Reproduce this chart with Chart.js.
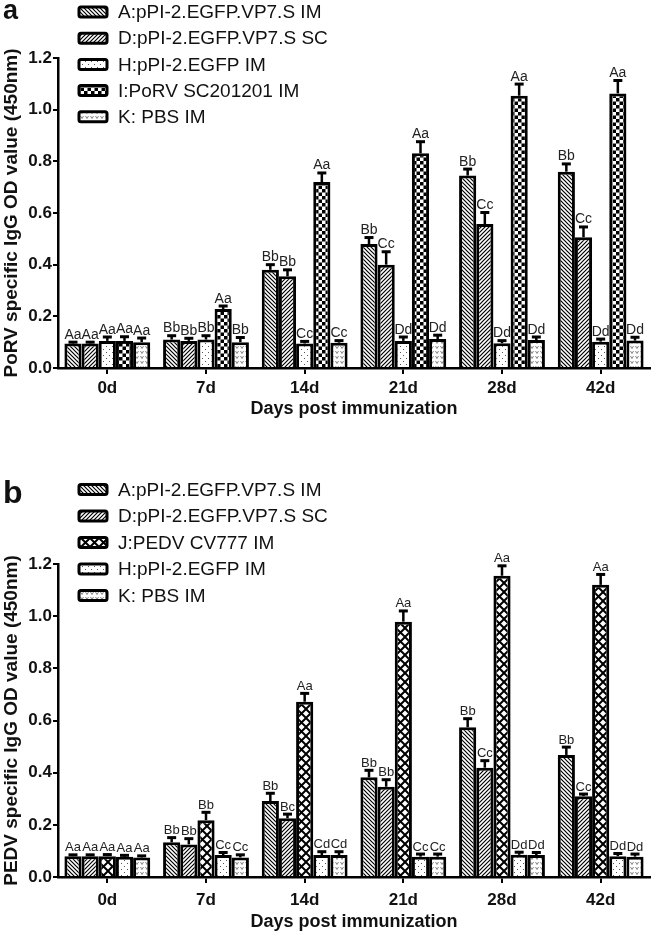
<!DOCTYPE html>
<html lang="en">
    <head>
        <meta charset="utf-8">
        <script src="https://cdn.jsdelivr.net/npm/chart.js"></script>
        <title> Specific IgG OD value </title>
        <style>
            * { box-sizing: border-box; }
            body {
                margin: 0;
                background: #fff;
                width: 657px;
                height: 933px;
                overflow: hidden;
            }
            canvas { position: absolute; left: 0; }
            #chartA { top: 0; }
            #chartB { top: 466px; }
        </style>
    </head>
    <body>
        <canvas id="chartA" width="657" height="466"></canvas>
        <canvas id="chartB" width="657" height="467"></canvas>

        <script>
            // categories
            const days = ['0d', '7d', '14d', '21d', '28d', '42d'];
            const yTicks = [0.0, 0.2, 0.4, 0.6, 0.8, 1.0, 1.2];

            // panel a : PoRV specific IgG
            const porvNames = ['A:pPI-2.EGFP.VP7.S IM', 'D:pPI-2.EGFP.VP7.S SC', 'H:pPI-2.EGFP IM', 'I:PoRV SC201201 IM', 'K: PBS IM'];
            const porvA = [0.095, 0.11, 0.38, 0.48, 0.745, 0.76];
            const porvD = [0.095, 0.105, 0.355, 0.40, 0.557, 0.506];
            const porvH = [0.105, 0.11, 0.095, 0.105, 0.096, 0.102];
            const porvI = [0.105, 0.228, 0.72, 0.831, 1.054, 1.063];
            const porvK = [0.10, 0.10, 0.098, 0.112, 0.108, 0.106];
            const porvAErr = [0.005, 0.015, 0.02, 0.025, 0.025, 0.03];
            const porvDErr = [0.005, 0.01, 0.025, 0.05, 0.045, 0.04];
            const porvHErr = [0.015, 0.015, 0.008, 0.015, 0.01, 0.01];
            const porvIErr = [0.016, 0.012, 0.035, 0.045, 0.045, 0.05];
            const porvKErr = [0.016, 0.018, 0.008, 0.015, 0.012, 0.013];
            const porvAMarks = ['Aa', 'Bb', 'Bb', 'Bb', 'Bb', 'Bb'];
            const porvDMarks = ['Aa', 'Bb', 'Bb', 'Cc', 'Cc', 'Cc'];
            const porvHMarks = ['Aa', 'Bb', 'Cc', 'Dd', 'Dd', 'Dd'];
            const porvIMarks = ['Aa', 'Aa', 'Aa', 'Aa', 'Aa', 'Aa'];
            const porvKMarks = ['Aa', 'Bb', 'Cc', 'Dd', 'Dd', 'Dd'];

            // panel b : PEDV specific IgG
            const pedvNames = ['A:pPI-2.EGFP.VP7.S IM', 'D:pPI-2.EGFP.VP7.S SC', 'J:PEDV CV777 IM', 'H:pPI-2.EGFP IM', 'K: PBS IM'];
            const pedvA = [0.08, 0.133, 0.291, 0.382, 0.574, 0.468];
            const pedvD = [0.08, 0.125, 0.225, 0.346, 0.419, 0.31];
            const pedvJ = [0.08, 0.218, 0.672, 0.979, 1.155, 1.12];
            const pedvH = [0.078, 0.084, 0.084, 0.078, 0.085, 0.08];
            const pedvK = [0.075, 0.075, 0.084, 0.078, 0.084, 0.078];
            const pedvAErr = [0.005, 0.018, 0.03, 0.027, 0.033, 0.03];
            const pedvDErr = [0.005, 0.022, 0.016, 0.027, 0.027, 0.008];
            const pedvJErr = [0.006, 0.03, 0.032, 0.041, 0.038, 0.04];
            const pedvHErr = [0.005, 0.01, 0.013, 0.01, 0.01, 0.01];
            const pedvKErr = [0.006, 0.01, 0.013, 0.01, 0.01, 0.01];
            const pedvAMarks = ['Aa', 'Bb', 'Bb', 'Bb', 'Bb', 'Bb'];
            const pedvDMarks = ['Aa', 'Bb', 'Bc', 'Bb', 'Cc', 'Cc'];
            const pedvJMarks = ['Aa', 'Bb', 'Aa', 'Aa', 'Aa', 'Aa'];
            const pedvHMarks = ['Aa', 'Cc', 'Cd', 'Cc', 'Dd', 'Dd'];
            const pedvKMarks = ['Aa', 'Cc', 'Cd', 'Cc', 'Dd', 'Dd'];

            const FONT = '"Liberation Sans", Arial, sans-serif';

            // fill patterns, one small tile each
            function makePattern(kind) {
                const c = document.createElement('canvas');
                const g = c.getContext('2d');
                let s = 4;
                if (kind === 'back' || kind === 'fwd') {
                    s = 4;
                    c.width = c.height = s;
                    g.fillStyle = '#fff'; g.fillRect(0, 0, s, s);
                    g.strokeStyle = '#000'; g.lineWidth = 1.2;
                    g.beginPath();
                    if (kind === 'back') {
                        g.moveTo(-1, -1); g.lineTo(s + 1, s + 1);
                        g.moveTo(-1, s - 1); g.lineTo(1, s + 1);
                        g.moveTo(s - 1, -1); g.lineTo(s + 1, 1);
                    } else {
                        g.moveTo(-1, s + 1); g.lineTo(s + 1, -1);
                        g.moveTo(-1, 1); g.lineTo(1, -1);
                        g.moveTo(s - 1, s + 1); g.lineTo(s + 1, s - 1);
                    }
                    g.stroke();
                } else if (kind === 'dots') {
                    s = 6;
                    c.width = c.height = s;
                    g.fillStyle = '#fff'; g.fillRect(0, 0, s, s);
                    g.fillStyle = '#555';
                    g.fillRect(1, 1, 1, 1);
                    g.fillRect(4, 4, 1, 1);
                } else if (kind === 'checker') {
                    s = 7;
                    c.width = c.height = s;
                    g.fillStyle = '#fff'; g.fillRect(0, 0, s, s);
                    g.fillStyle = '#000';
                    g.fillRect(0, 0, 3.5, 3.5);
                    g.fillRect(3.5, 3.5, 3.5, 3.5);
                } else if (kind === 'cross') {
                    s = 9;
                    c.width = c.height = s;
                    g.fillStyle = '#fff'; g.fillRect(0, 0, s, s);
                    g.strokeStyle = '#000'; g.lineWidth = 2;
                    g.beginPath();
                    g.moveTo(-1, -1); g.lineTo(s + 1, s + 1);
                    g.moveTo(-1, s + 1); g.lineTo(s + 1, -1);
                    g.stroke();
                } else if (kind === 'vees') {
                    s = 5;
                    c.width = c.height = s;
                    g.fillStyle = '#fff'; g.fillRect(0, 0, s, s);
                    g.strokeStyle = '#666'; g.lineWidth = 0.8;
                    g.beginPath();
                    g.moveTo(0.5, 1); g.lineTo(2, 3.5); g.lineTo(3.5, 1);
                    g.stroke();
                }
                return g.createPattern(c, 'repeat');
            }

            const patBack = makePattern('back');
            const patFwd = makePattern('fwd');
            const patDots = makePattern('dots');
            const patChecker = makePattern('checker');
            const patCross = makePattern('cross');
            const patVees = makePattern('vees');

            function barSet(label, data, err, marks, fill) {
                return {
                    label: label,
                    data: data,
                    errors: err,
                    marks: marks,
                    backgroundColor: fill,
                    borderColor: '#000',
                    borderWidth: 3,
                    categoryPercentage: 0.87,
                    barPercentage: 1.0
                };
            }

            // panel letter, legend, error bars and group letters
            const panelExtras = {
                id: 'panelExtras',
                afterDatasetsDraw(chart, args, opts) {
                    const ctx = chart.ctx;
                    const y = chart.scales.y;
                    ctx.save();
                    chart.data.datasets.forEach((ds, i) => {
                        const meta = chart.getDatasetMeta(i);
                        meta.data.forEach((bar, j) => {
                            const top = bar.y;
                            const yErr = y.getPixelForValue(ds.data[j] + ds.errors[j]);
                            ctx.strokeStyle = '#000';
                            ctx.lineWidth = 2.5;
                            ctx.beginPath();
                            ctx.moveTo(bar.x, top);
                            ctx.lineTo(bar.x, yErr);
                            ctx.stroke();
                            ctx.lineWidth = 3;
                            ctx.beginPath();
                            ctx.moveTo(bar.x - 4.5, yErr);
                            ctx.lineTo(bar.x + 4.5, yErr);
                            ctx.stroke();
                            ctx.fillStyle = '#222';
                            ctx.font = opts.markSize + 'px ' + FONT;
                            ctx.textAlign = 'center';
                            ctx.textBaseline = 'alphabetic';
                            ctx.fillText(ds.marks[j], bar.x, yErr - 3.5);
                        });
                    });
                    ctx.restore();
                },
                afterDraw(chart, args, opts) {
                    const ctx = chart.ctx;
                    ctx.save();
                    // panel letter
                    ctx.fillStyle = '#111';
                    ctx.font = 'bold ' + opts.letterSize + 'px ' + FONT;
                    ctx.textAlign = 'left';
                    ctx.textBaseline = 'alphabetic';
                    ctx.fillText(opts.letter, 3, opts.letterBaseline);
                    // legend
                    chart.data.datasets.forEach((ds, i) => {
                        const cy = opts.legendTop + i * opts.legendStep;
                        ctx.fillStyle = ds.backgroundColor;
                        ctx.strokeStyle = '#000';
                        ctx.lineWidth = 3;
                        ctx.beginPath();
                        ctx.roundRect(79, cy - 5, 28, 10, 2);
                        ctx.fill();
                        ctx.stroke();
                        ctx.fillStyle = '#111';
                        ctx.font = '19px ' + FONT;
                        ctx.textBaseline = 'middle';
                        ctx.fillText(ds.label, 118, cy + 1);
                    });
                    ctx.restore();
                }
            };

            function makeChart(id, datasets, yTitle, p) {
                return new Chart(document.getElementById(id), {
                    type: 'bar',
                    data: { labels: days, datasets: datasets },
                    plugins: [panelExtras],
                    options: {
                        responsive: false,
                        animation: false,
                        layout: { padding: { top: p.top, bottom: p.bottom, left: 0, right: 7 } },
                        plugins: {
                            legend: { display: false },
                            tooltip: { enabled: false },
                            panelExtras: p.extras
                        },
                        scales: {
                            x: {
                                afterFit: (s) => { s.height = p.xHeight; },
                                border: { color: '#000', width: 2.5 },
                                grid: { offset: false, drawOnChartArea: false, drawTicks: true, tickLength: 6, color: '#000', lineWidth: 2 },
                                ticks: { color: '#111', padding: p.xPad, font: { family: FONT, size: 17, weight: 'bold' } },
                                title: { display: true, text: 'Days post immunization', color: '#111', padding: { top: 0, bottom: 0 }, font: { family: FONT, size: 18, weight: 'bold' } }
                            },
                            y: {
                                min: 0,
                                max: 1.2,
                                afterFit: (s) => { s.width = 58; },
                                afterBuildTicks: (s) => { s.ticks = yTicks.map(v => ({ value: v })); },
                                border: { color: '#000', width: 2.5 },
                                grid: { drawOnChartArea: false, drawTicks: true, tickLength: 5, color: '#000', lineWidth: 2 },
                                ticks: { color: '#111', padding: 1, font: { family: FONT, size: 17, weight: 'bold' }, callback: (v) => Number(v).toFixed(1) },
                                title: { display: true, text: yTitle, color: '#111', padding: { top: 0, bottom: 0 }, font: { family: FONT, size: 19, weight: 'bold' } }
                            }
                        }
                    }
                });
            }

            makeChart('chartA', [
                barSet(porvNames[0], porvA, porvAErr, porvAMarks, patBack),
                barSet(porvNames[1], porvD, porvDErr, porvDMarks, patFwd),
                barSet(porvNames[2], porvH, porvHErr, porvHMarks, patDots),
                barSet(porvNames[3], porvI, porvIErr, porvIMarks, patChecker),
                barSet(porvNames[4], porvK, porvKErr, porvKMarks, patVees)
            ], 'PoRV specific IgG OD value (450nm)', {
                top: 58, bottom: 46, xHeight: 52, xPad: 4,
                extras: { letter: 'a', letterSize: 27, letterBaseline: 19, legendTop: 12, legendStep: 26.2, markSize: 14 }
            });

            makeChart('chartB', [
                barSet(pedvNames[0], pedvA, pedvAErr, pedvAMarks, patBack),
                barSet(pedvNames[1], pedvD, pedvDErr, pedvDMarks, patFwd),
                barSet(pedvNames[2], pedvJ, pedvJErr, pedvJMarks, patCross),
                barSet(pedvNames[3], pedvH, pedvHErr, pedvHMarks, patDots),
                barSet(pedvNames[4], pedvK, pedvKErr, pedvKMarks, patVees)
            ], 'PEDV specific IgG OD value (450nm)', {
                top: 98, bottom: 0, xHeight: 56, xPad: 7,
                extras: { letter: 'b', letterSize: 32, letterBaseline: 37, legendTop: 23.5, legendStep: 26.5, markSize: 13 }
            });
        </script>
    </body>
</html>
